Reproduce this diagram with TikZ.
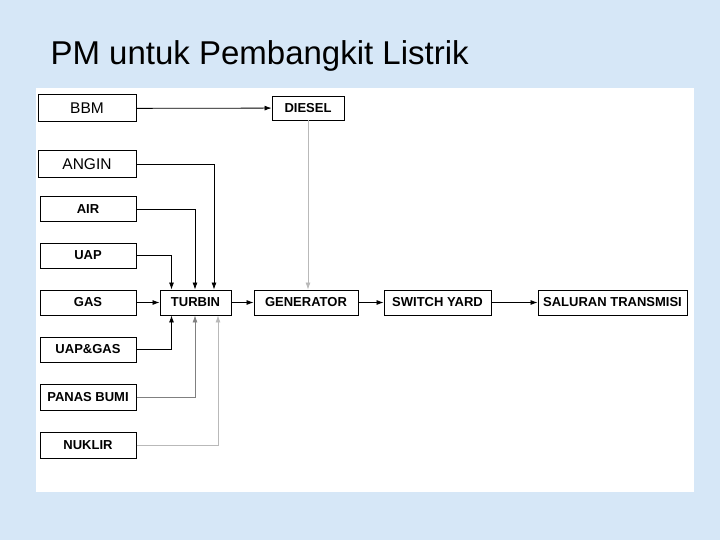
\documentclass[tikz,border=0pt]{standalone}
\usepackage{fontspec}
\setmainfont{Liberation Sans}
\usepackage{xcolor}
\usetikzlibrary{arrows.meta,positioning,calc}

\definecolor{slidebg}{RGB}{214,231,247}

\begin{document}
\begin{tikzpicture}[
    x=1pt, y=-1pt,
    src/.style={rectangle, draw=black, line width=1pt, fill=white, inner sep=0pt, minimum width=96pt, minimum height=25pt, font=\fontsize{13}{15}\selectfont\bfseries},
    srcplain/.style={src, minimum width=98pt, minimum height=27pt, font=\fontsize{15.5}{18}\selectfont},
    unit/.style={rectangle, draw=black, line width=0.9pt, fill=white, inner sep=0pt, minimum height=25pt, font=\fontsize{13}{15}\selectfont\bfseries},
    feed/.style={-{Latex[length=7pt,width=5pt]}, line width=0.8pt, color=#1},
    feed/.default=black
]
    % Slide background and white panel
    \fill[slidebg] (0,0) rectangle (720,540);
    \fill[white] (36,88) rectangle (694,492);
    \node[anchor=base west, font=\fontsize{33}{38}\selectfont] (title) at (47,65) {PM untuk Pembangkit Listrik};

    % Energy sources
    \node[srcplain] (bbm)   at (87,108.5) {BBM};
    \node[srcplain] (angin) at (87,164.5) {ANGIN};
    \node[src] (air)    at (88,209.5) {AIR};
    \node[src] (uap)    at (88,255.5) {UAP};
    \node[src] (gas)    at (88,302.5) {GAS};
    \node[src] (uapgas) at (88,349.5) {UAP\&GAS};
    \node[src, minimum height=26pt] (panas)  at (88,397) {PANAS BUMI};
    \node[src, minimum height=26pt] (nuklir) at (88,445) {NUKLIR};

    % Conversion chain
    \node[unit, minimum width=72pt, minimum height=24pt] (diesel) at (308,108) {DIESEL};
    \node[unit, minimum width=71pt]  (turbin)    at (195.5,302.5) {TURBIN};
    \node[unit, minimum width=104pt] (generator) at (306,302.5) {GENERATOR};
    \node[unit, minimum width=107pt] (switch)    at (437.5,302.5) {SWITCH YARD};
    \node[unit, minimum width=149pt] (saluran)   at (612.5,302.5) {SALURAN TRANSMISI};

    % Feeds into turbin
    \draw[feed] (bbm) -- (diesel);
    \draw[feed] (angin.east) -| ([xshift=18.5pt]turbin.north);
    \draw[feed] (air.east) -| ([xshift=-0.5pt]turbin.north);
    \draw[feed] (uap.east) -| ([xshift=-24pt]turbin.north);
    \draw[feed] (gas) -- (turbin);
    \draw[feed] (uapgas.east) -| ([xshift=-24pt]turbin.south);
    \draw[feed=gray] (panas.east) -| ([xshift=-0.5pt]turbin.south);
    \draw[feed=gray!55] (nuklir.east) -| ([xshift=22.5pt]turbin.south);

    % Output chain
    \draw[feed=gray!55] (diesel.south) -- (diesel.south |- generator.north);
    \draw[feed] (turbin) -- (generator);
    \draw[feed] (generator) -- (switch);
    \draw[feed] (switch) -- (saluran);
\end{tikzpicture}
\end{document}
